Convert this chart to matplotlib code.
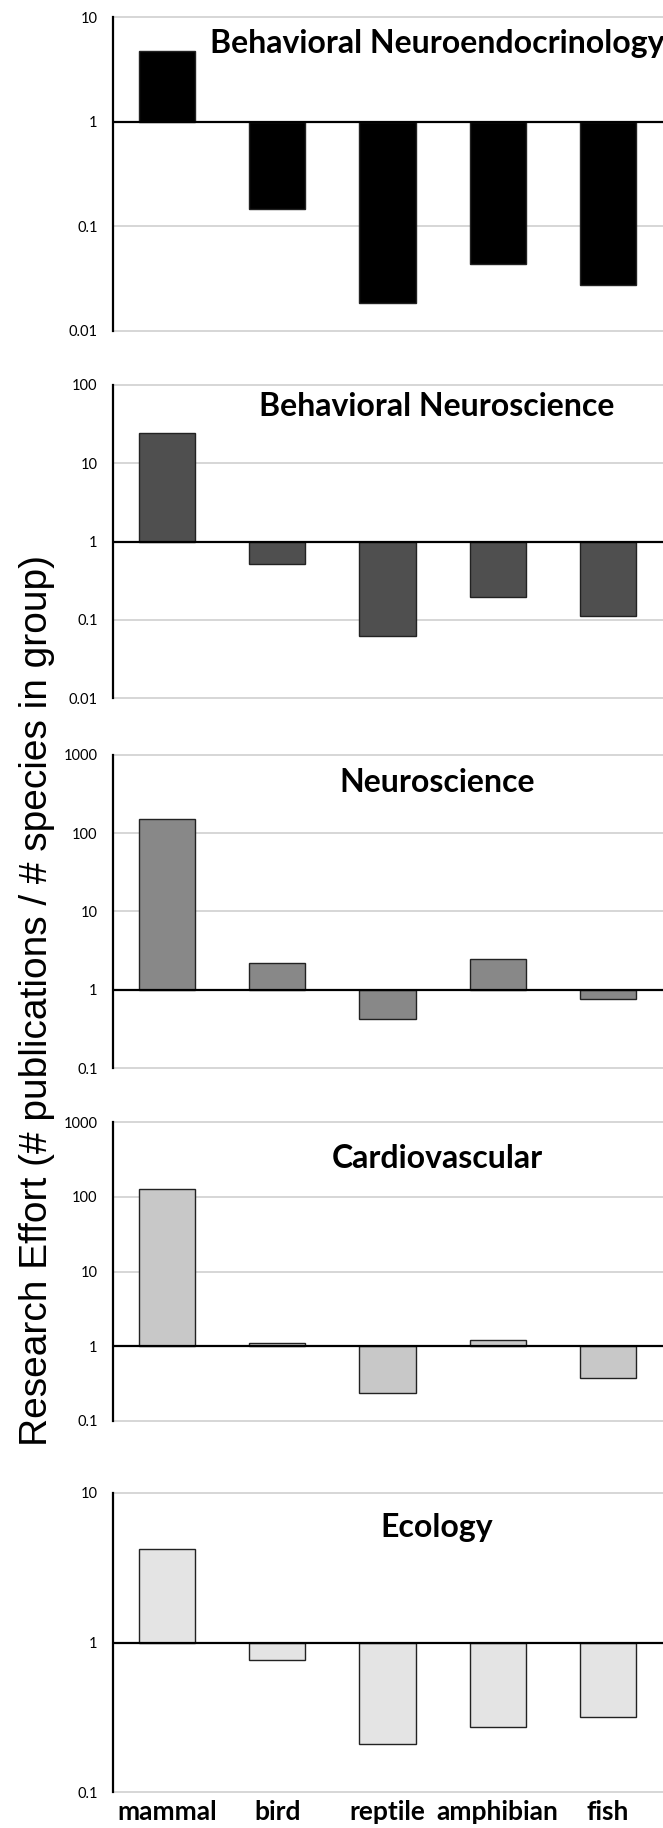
import matplotlib
matplotlib.use("Agg")
import matplotlib.pyplot as plt
import numpy as np

# animal groups on the x axis
groups = ["mammal", "bird", "reptile", "amphibian", "fish"]

# research effort (# publications / # species in group)
neuroendo = [4.76, 0.147, 0.0184, 0.0439, 0.0276]
behav_neuro = [24.1, 0.513, 0.0615, 0.194, 0.111]
neuroscience = [154, 2.21, 0.426, 2.44, 0.76]
cardio = [126, 1.11, 0.238, 1.215, 0.381]
ecology = [4.19, 0.766, 0.21, 0.274, 0.317]

titles = ["Behavioral Neuroendocrinology", "Behavioral Neuroscience",
          "Neuroscience", "Cardiovascular", "Ecology"]
ylims = [(0.01, 10), (0.01, 100), (0.1, 1000), (0.1, 1000), (0.1, 10)]
colors = ["#000000", "#4f4f4f", "#888888", "#c8c8c8", "#e4e4e4"]
series = [neuroendo, behav_neuro, neuroscience, cardio, ecology]

W, H = 663, 1828
fig = plt.figure(figsize=(W / 100, H / 100), dpi=100)

# panel extents in pixels (top, bottom)
panels = [(17, 331), (385, 698), (755, 1068), (1122, 1421), (1493, 1792)]
ax_left, ax_right = 113, 663
title_y = [43, 407, 782, 1158, 1528]

x = np.arange(len(groups))
for i in range(5):
    top, bot = panels[i]
    ax = fig.add_axes([ax_left / W, 1 - bot / H, (ax_right - ax_left) / W, (bot - top) / H])
    ax.set_yscale("log")
    ax.set_ylim(*ylims[i])
    ax.set_xlim(-0.49, 4.5)
    vals = np.array(series[i])
    ax.bar(x, vals - 1, bottom=1, width=0.51, color=colors[i],
           edgecolor="#222222", linewidth=1.0, zorder=3)
    ax.axhline(1, color="black", lw=1.6, zorder=4)
    lo, hi = ylims[i]
    decades = 10.0 ** np.arange(np.log10(lo), np.log10(hi) + 0.5)
    ax.set_yticks(decades)
    ax.set_yticks([], minor=True)
    ax.set_yticklabels(["%g" % d for d in decades], fontsize=10.5, family="Lato")
    for d in decades:
        if d != 1:
            ax.axhline(d, color="#d0d0d0", lw=1.2, zorder=1, clip_on=False)
    ax.tick_params(axis="y", length=0, pad=11)
    ax.tick_params(axis="x", length=0)
    for s in ["top", "right", "bottom"]:
        ax.spines[s].set_visible(False)
    ax.spines["left"].set_linewidth(1.6)
    ax.spines["left"].set_color("black")
    if i == 4:
        ax.set_xticks(x)
        ax.set_xticklabels(groups, fontsize=19, fontweight="bold", family="Lato")
        ax.tick_params(axis="x", pad=6)
    else:
        ax.set_xticks([])
    fig.text(437 / W, 1 - title_y[i] / H, titles[i], ha="center", va="center",
             fontsize=23, fontweight="bold", family="Lato")

fig.text(37 / W, 1 - 1000 / H, "Research Effort (# publications / # species in group)",
         rotation=90, ha="center", va="center", fontsize=28, family="Liberation Sans")

fig.savefig("out.png", dpi=100)
